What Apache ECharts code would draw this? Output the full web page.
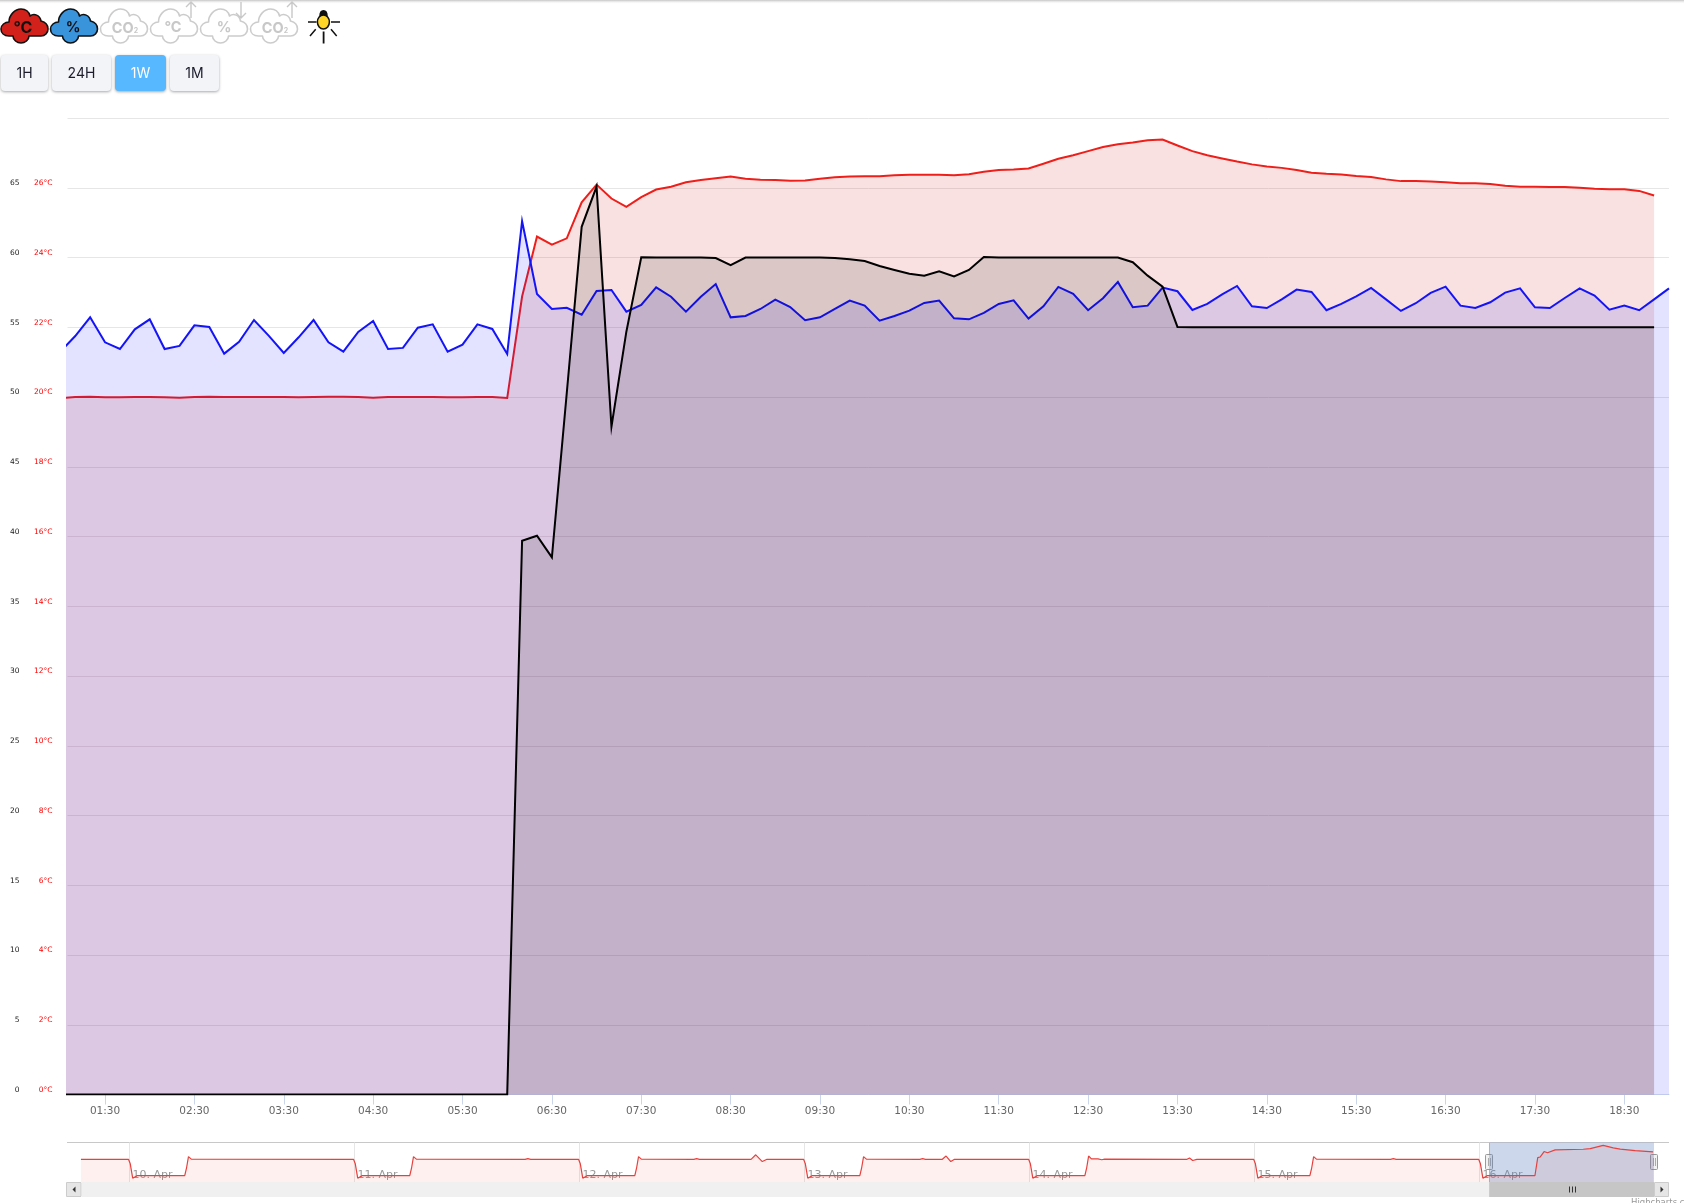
<!DOCTYPE html>
<html>
<head>
<meta charset="utf-8">
<script src="https://cdn.jsdelivr.net/npm/echarts@6/dist/echarts.min.js"></script>
<style>
html,body{margin:0;padding:0;background:#fff;overflow:hidden;width:1684px;height:1203px}
#chart{position:absolute;left:0;top:0;width:1684px;height:1203px}
#icons{position:absolute;left:0;top:0}
.btn{position:absolute;top:55px;height:36px;text-align:center;background:#f3f4f8;border-radius:4px;
box-shadow:0 1px 3px rgba(0,0,0,.35);font:400 14px/36px Inter,sans-serif;color:#1b1b2b}
.btn.on{background:#57b7ff;color:#fff}
</style>
</head>
<body>
<div id="chart"></div>
<svg id="icons" width="350" height="50" xmlns="http://www.w3.org/2000/svg">
<defs><path id="cloud" d="M8 27C3 27 0 24 0 20C0 16 4 13 8 13C8 6 14 0 20 0C25 0 28 3 29 7C33 4 39 6 40 12C44 13 47 16 47 20C47 24 44 27 40 27L28 27C28 31 24 34 20 34C16 34 12 31 12 27Z"/></defs>
<g stroke-width="1.6" stroke-linejoin="round">
<use href="#cloud" x="1" y="9" fill="#d2211a" stroke="#111"/>
<use href="#cloud" x="50.5" y="9" fill="#3a94dc" stroke="#111"/>
<use href="#cloud" x="100.5" y="9" fill="#fff" stroke="#ccc"/>
<use href="#cloud" x="150.5" y="9" fill="#fff" stroke="#ccc"/>
<use href="#cloud" x="200.5" y="9" fill="#fff" stroke="#ccc"/>
<use href="#cloud" x="250.5" y="9" fill="#fff" stroke="#ccc"/>
</g>
<g font-family="Inter,sans-serif" font-weight="700" text-anchor="middle">
<text x="23" y="32.5" font-size="16" fill="#111">°C</text>
<text x="73" y="32" font-size="14.5" fill="#111">%</text>
<text x="125" y="32.5" font-size="14.5" fill="#c8c8c8">CO<tspan font-size="7">2</tspan></text>
<text x="173" y="32" font-size="14.5" fill="#c8c8c8">°C</text>
<text x="224" y="32" font-size="14.5" fill="#c8c8c8">%</text>
<text x="275" y="32.5" font-size="14.5" fill="#c8c8c8">CO<tspan font-size="7">2</tspan></text>
</g>
<g stroke="#c8c8c8" stroke-width="1.4" fill="none">
<path d="M191 18V2M186 7L191 2L196 7"/>
<path d="M241 18V2M236 13L241 18L246 13"/>
<path d="M292 18V2M287 7L292 2L297 7"/>
</g>
<g stroke="#111" stroke-width="1.5" fill="none">
<path d="M308 22H316.5M331 22H340M315.7 29.3L310 36M331 29.3L336.7 36"/>
<path d="M323.6 31.5V43.5" stroke-width="1.8"/>
<path d="M320 16C320 9 327 9 327 16Z" fill="#111"/>
<ellipse cx="323.4" cy="22" rx="6" ry="7" fill="#ffd528"/>
</g>
</svg>
<div class="btn" style="left:1px;width:47px">1H</div>
<div class="btn" style="left:52px;width:59px">24H</div>
<div class="btn on" style="left:115px;width:51px">1W</div>
<div class="btn" style="left:170px;width:49px">1M</div>
<script>
// main-chart samples: one value every ten minutes, first value at 01:00
var humidityPct = [
53.25,54.37,55.71,53.92,53.44,54.85,
55.57,53.44,53.66,55.14,55.02,53.11,
53.95,55.52,54.38,53.16,54.28,55.52,
53.92,53.25,54.66,55.45,53.44,53.52,
54.97,55.21,53.25,53.75,55.21,54.88,
53.09,62.6,57.38,56.31,56.40,55.90,
57.60,57.67,56.12,56.60,57.86,57.19,
56.12,57.19,58.10,55.71,55.81,56.31,
56.98,56.45,55.50,55.71,56.31,56.91,
56.55,55.47,55.81,56.19,56.74,56.91,
55.64,55.57,56.03,56.67,56.93,55.62,
56.50,57.89,57.39,56.22,57.08,58.25,
56.43,56.55,57.84,57.58,56.24,56.67,
57.36,57.96,56.50,56.38,57.00,57.70,
57.53,56.22,56.67,57.22,57.82,57.00,
56.17,56.72,57.46,57.91,56.55,56.38,
56.79,57.48,57.79,56.43,56.38,57.10,
57.79,57.27,56.26,56.55,56.22,57.00,
57.79];
var temperatureC = [
19.97,20.0,20.01,19.99,19.99,20.0,
20.0,19.99,19.98,20.0,20.01,20.0,
20.0,20.0,20.0,20.0,19.99,20.0,
20.01,20.01,20.0,19.98,20.0,20.0,
20.0,20.0,19.99,19.99,20.0,20.0,
19.97,22.88,24.60,24.37,24.55,25.58,
26.09,25.69,25.45,25.73,25.95,26.03,
26.16,26.22,26.27,26.32,26.26,26.23,
26.22,26.20,26.21,26.26,26.30,26.32,
26.33,26.33,26.36,26.37,26.37,26.37,
26.36,26.39,26.46,26.51,26.52,26.55,
26.69,26.83,26.93,27.05,27.17,27.25,
27.30,27.36,27.38,27.21,27.05,26.93,
26.84,26.75,26.67,26.61,26.57,26.51,
26.43,26.40,26.38,26.34,26.31,26.24,
26.19,26.19,26.18,26.16,26.13,26.13,
26.11,26.06,26.03,26.03,26.02,26.02,
26.0,25.97,25.96,25.96,25.91,25.78];
var lightPct = [
0,0,0,0,0,0,
0,0,0,0,0,0,
0,0,0,0,0,0,
0,0,0,0,0,0,
0,0,0,0,0,0,
0,39.7,40.05,38.5,50.3,62.2,
65.08,47.87,54.68,60.01,60,60,
60,60,59.96,59.46,60,60,
60,60,60,60,59.96,59.87,
59.75,59.39,59.11,58.84,58.70,59.01,
58.65,59.11,60.04,60,60,60,
60,60,60,60,60,60,
59.66,58.70,57.91,55.02,55,55,
55,55,55,55,55,55,
55,55,55,55,55,55,
55,55,55,55,55,55,
55,55,55,55,55,55,
55,55,55,55,55,55];
var timeTicks = ["01:30","02:30","03:30","04:30","05:30","06:30","07:30","08:30","09:30","10:30","11:30","12:30","13:30","14:30","15:30","16:30","17:30","18:30"];
var humidityTicks = [0,5,10,15,20,25,30,35,40,45,50,55,60,65,70];
var temperatureTicks = [0,2,4,6,8,10,12,14,16,18,20,22,24,26,28];
// navigator: hours counted from 10 Apr 00:00, and temperature at those hours
var navHours = [-5.17,-0.1,0.08,0.35,0.8,5.9,6.1,6.3,6.6,
23.9,24.08,24.35,24.8,29.9,30.1,30.3,30.6,42.2,42.5,42.8,
47.9,48.08,48.35,48.8,53.9,54.1,54.3,54.6,60.2,60.5,60.8,66.3,66.8,67.5,68,
71.9,72.08,72.35,72.8,77.9,78.1,78.3,78.6,84.3,84.6,84.9,86.7,87.1,87.6,88,
95.9,96.08,96.35,96.8,101.9,102.1,102.3,102.6,103.3,103.7,104,112.8,113.06,113.4,113.85,
119.9,120.08,120.35,120.8,125.9,126.1,126.3,126.6,134.5,134.8,135.1,
143.9,144.08,144.35,144.8,149.9,150.2,150.45,150.88,151.24,152.06,155.05,155.8,157.18,158.25,159,160.6,162.5];
var navTemps = [24,24,23,19.4,20,20,22,24.65,24.05,
24,23,19.4,20,20,22,24.65,24.05,24,24.15,24,
24,23,19.4,20,20,22,24.65,24.05,24,24.15,24,24,25.1,23.45,24,
24,23,19.4,20,20,22,24.65,24.05,24,24.15,24,24,24.8,23.45,24,
24,23,19.4,20,20,22,24.8,24.1,24.1,23.9,24.05,24,24.3,23.7,24,
24,23,19.4,20,20,22,24.65,24.05,24,24.15,24,
24,23,19.4,20,20,24.4,24.56,25.9,25.6,26.3,26.45,26.6,27.38,26.8,26.5,26.1,25.8];
var navDayHours = [0,24,48,72,96,120,144];
var navDayLabels = ["10. Apr","11. Apr","12. Apr","13. Apr","14. Apr","15. Apr","16. Apr"];
var navSelected = [145,162.6];

function minuteOf(s){var p=s.split(":");return p[0]*60+ +p[1];}
function pairs(arr){return arr.map(function(v,i){return [60+i*10,v];});}
var tickMinutes = timeTicks.map(minuteOf);
var navData = navHours.map(function(h,i){return [h,navTemps[i]];});

var FONT='"DejaVu Sans",sans-serif';
function area(name,arr,axis,line,fill,z){
  return {name:name,type:'line',xAxisIndex:0,yAxisIndex:axis,data:pairs(arr),showSymbol:false,symbol:'none',z:z,
    lineStyle:{color:line,width:2,join:'miter'},itemStyle:{color:line},areaStyle:{color:fill,opacity:1},silent:true};
}
var grey='#ccc';
var S={
 b:1182,h:15,l:67,r:1669
};
var graphicEls=[
 {type:'rect',shape:{x:0,y:0,width:1684,height:4},style:{fill:new echarts.graphic.LinearGradient(0,0,0,1,[{offset:0,color:'#c4c4c4'},{offset:1,color:'rgba(255,255,255,0)'}])}},
 {type:'rect',shape:{x:S.l,y:1142,width:S.r-S.l,height:1},style:{fill:'#c8c8c8'}},
 {type:'rect',shape:{x:S.l+15,y:S.b,width:S.r-S.l-30,height:S.h},style:{fill:'#f0f0f0'}},
 {type:'rect',shape:{x:S.l-0.5,y:S.b+0.5,width:14.5,height:14},style:{fill:'#e6e6e6',stroke:grey,lineWidth:1}},
 {type:'polygon',shape:{points:[[75.5,1186.5],[72.5,1189.5],[75.5,1192.5]]},style:{fill:'#333'}},
 {type:'rect',shape:{x:1490,y:S.b,width:164,height:S.h},style:{fill:'#c6c6c6'}},
 {type:'rect',shape:{x:1654.5,y:S.b+0.5,width:14,height:14},style:{fill:'#e6e6e6',stroke:grey,lineWidth:1}},
 {type:'polygon',shape:{points:[[1660.5,1186.5],[1663.5,1189.5],[1660.5,1192.5]]},style:{fill:'#333'}},
 {type:'rect',shape:{x:1569,y:1186.5,width:1,height:6},style:{fill:'#333'}},
 {type:'rect',shape:{x:1572,y:1186.5,width:1,height:6},style:{fill:'#333'}},
 {type:'rect',shape:{x:1575,y:1186.5,width:1,height:6},style:{fill:'#333'}},
 {type:'rect',shape:{x:1489,y:1142,width:1,height:55},style:{fill:grey}},
 {type:'rect',shape:{x:1485.5,y:1154.5,width:7,height:15,r:1},style:{fill:'#f2f2f2',stroke:'#999',lineWidth:1}},
 {type:'rect',shape:{x:1488,y:1158,width:0.8,height:8},style:{fill:'#999'}},
 {type:'rect',shape:{x:1490,y:1158,width:0.8,height:8},style:{fill:'#999'}},
 {type:'rect',shape:{x:1650.5,y:1154.5,width:7,height:15,r:1},style:{fill:'#f2f2f2',stroke:'#999',lineWidth:1}},
 {type:'rect',shape:{x:1653,y:1158,width:0.8,height:8},style:{fill:'#999'}},
 {type:'rect',shape:{x:1655,y:1158,width:0.8,height:8},style:{fill:'#999'}},
 {type:'text',style:{text:'Highcharts.com',x:1631,y:1198,fill:'#999',font:'8.5px '+FONT,textVerticalAlign:'top'}}
];
var option={
 animation:false,
 backgroundColor:'#fff',
 textStyle:{fontFamily:FONT},
 graphic:{elements:graphicEls},
 grid:[
  {left:67.5,top:118,width:1601.5,height:976.5,show:false},
  {left:67,top:1142.5,width:1602,height:39.5,show:false}
 ],
 xAxis:[
  {type:'value',gridIndex:0,min:64.8,max:1140,splitLine:{show:false},
   axisLine:{show:true,onZero:false,lineStyle:{color:'#ccd6eb',width:1}},
   axisTick:{show:true,length:10,customValues:tickMinutes,lineStyle:{color:'#ccd6eb',width:1}},
   axisLabel:{show:true,customValues:tickMinutes,margin:11,color:'#666',fontSize:10.5,fontFamily:FONT,
     formatter:function(v){return timeTicks[tickMinutes.indexOf(v)]||'';}}},
  {type:'value',gridIndex:1,min:-6.656,max:164.2,
   splitLine:{show:true,lineStyle:{color:'#e6e6e6',width:1}},
   axisLine:{show:false},
   axisTick:{show:false,customValues:navDayHours},
   axisLabel:{show:true,inside:true,customValues:navDayHours,margin:1,color:'#999',fontSize:11,fontFamily:FONT,align:'left',padding:[0,0,0,3],
     formatter:function(v){return navDayLabels[navDayHours.indexOf(v)]||'';}}}
 ],
 yAxis:[
  {type:'value',gridIndex:0,position:'left',min:0,max:70,interval:5,
   splitLine:{show:true,lineStyle:{color:'#e6e6e6',width:1}},axisLine:{show:false},axisTick:{show:false},
   axisLabel:{showMaxLabel:false,margin:48,align:'right',verticalAlign:'bottom',lineHeight:9,color:'#222',fontSize:7.5,fontFamily:FONT,
     formatter:function(v){return humidityTicks.indexOf(v)>=0?String(v):'';}}},
  {type:'value',gridIndex:0,position:'left',min:0,max:28,interval:2,
   splitLine:{show:false},axisLine:{show:false},axisTick:{show:false},
   axisLabel:{showMaxLabel:false,margin:15,align:'right',verticalAlign:'bottom',lineHeight:9,color:'#f00',fontSize:7.5,fontFamily:FONT,
     formatter:function(v){return temperatureTicks.indexOf(v)>=0?v+'°C':'';}}},
  {type:'value',gridIndex:1,min:18.47,max:28.1,show:false,splitLine:{show:false}}
 ],
 series:[
  area('Temperature',temperatureC,1,'#ee1f1a','rgba(205,10,10,0.12)',2),
  area('Humidity',humidityPct,0,'#1414f8','rgba(0,0,255,0.11)',3),
  area('Light',lightPct,0,'#000','rgba(0,0,0,0.115)',4),
  {name:'Navigator',type:'line',xAxisIndex:1,yAxisIndex:2,data:navData,showSymbol:false,symbol:'none',silent:true,
   lineStyle:{color:'#e8403c',width:1.2},areaStyle:{color:'rgba(225,60,45,0.08)',opacity:1},
   markArea:{silent:true,itemStyle:{color:'rgba(102,133,194,0.33)'},data:[[{xAxis:navSelected[0]},{xAxis:navSelected[1]}]]}}
 ]
};
var chart=echarts.init(document.getElementById('chart'),null,{renderer:'canvas',width:1684,height:1203});
chart.setOption(option);
</script>
</body>
</html>
